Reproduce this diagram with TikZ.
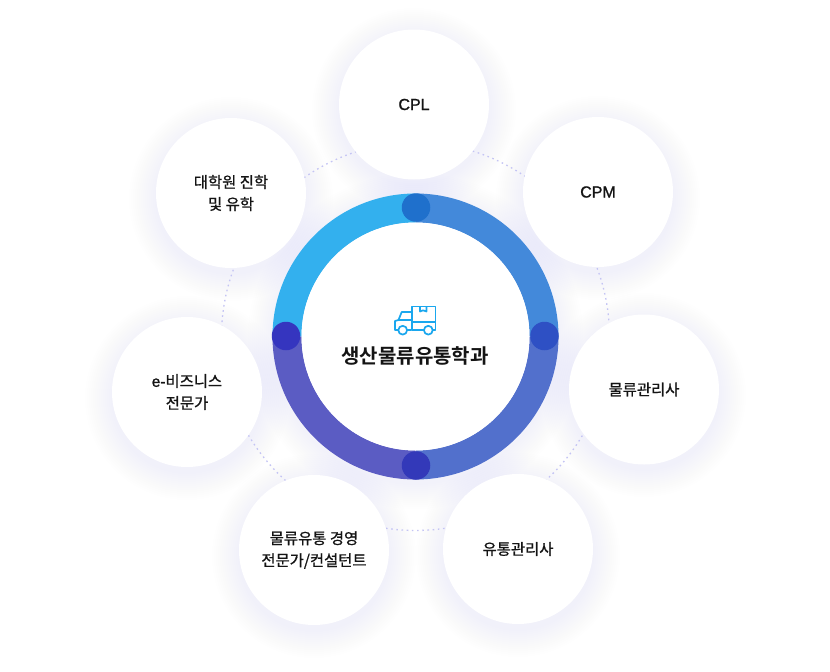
\documentclass[tikz,border=0pt]{standalone}
\usepackage{fontspec}
\setmainfont{Noto Sans CJK KR}[BoldFont={Noto Sans CJK KR Bold}]
\newfontfamily\labelfont[FakeBold=0.9]{Noto Sans CJK KR}
\newfontfamily\latinfont[FakeBold=1.2]{Liberation Sans}
\newfontfamily\titlefont{Noto Sans CJK KR Bold}
\definecolor{halo}{HTML}{B4B0FA}
\definecolor{dots}{HTML}{C4C4F4}
\definecolor{truck}{HTML}{1AA7EE}
\definecolor{qa}{HTML}{33B0EE}
\definecolor{qb}{HTML}{4389DA}
\definecolor{qc}{HTML}{5270CC}
\definecolor{qd}{HTML}{5B5CC3}
\tikzset{
  x=1pt,y=-1pt,
  bubble/.style={circle,fill=white,minimum size=150pt,inner sep=0pt,align=center,
    font=\labelfont\fontsize{15.4}{22}\selectfont,text=black!92},
  ringdot/.style={circle,minimum size=28.5pt,inner sep=0pt},
  truckline/.style={draw=truck,line width=1.7pt,line join=round},
}
\newcommand{\softhalo}[2]{%
  \foreach \r in {76,78,...,102}{\fill[halo,opacity=0.004] (#1,#2+6) circle[radius=\r];}}
\newcommand{\quadrant}[3]{%
  \fill[#1] (415.5,336.5) ++(#2:143) arc[start angle=#2,end angle=#3,radius=143]
    -- ($(415.5,336.5)+(#3:114)$) arc[start angle=#3,end angle=#2,radius=114] -- cycle;}
\usetikzlibrary{calc}
\begin{document}
\begin{tikzpicture}
\useasboundingbox (0,0) rectangle (830,672);
\fill[white] (0,0) rectangle (830,672);
% soft shadows
\softhalo{414}{104}\softhalo{598}{192}\softhalo{644}{389}\softhalo{518}{549}
\softhalo{314}{550}\softhalo{187}{392}\softhalo{231}{193}
\foreach \r in {144,146,...,168}{\fill[halo,opacity=0.004] (415.5,341) circle[radius=\r];}
% dotted orbit
\draw[dots,line width=1.3pt,dash pattern=on 1.6pt off 3.6pt] (415.5,336.5) circle[radius=194];
% ring (screen angles: y axis points down)
\quadrant{qa}{180}{270}
\quadrant{qb}{270}{360}
\quadrant{qc}{0}{90}
\quadrant{qd}{90}{180}
\node[circle,fill=white,minimum size=228pt,inner sep=0pt] (hub) at (415.5,336.5) {};
\node[ringdot,fill={rgb,255:red,31;green,112;blue,204}] (dt) at (416,207.5) {};
\node[ringdot,fill={rgb,255:red,46;green,80;blue,196}] (dr) at (544.5,336) {};
\node[ringdot,fill={rgb,255:red,51;green,57;blue,185}] (db) at (416,465.5) {};
\node[ringdot,fill={rgb,255:red,53;green,53;blue,191}] (dl) at (286,336) {};
% truck icon
\draw[truckline,fill=white] (411.7,306.5) rectangle (435.5,330);
\draw[truckline] (411.7,322.3) -- (435.5,322.3);
\draw[truckline] (420,306.5) -- (420,311.5) -- (423,310.3) -- (426.5,311.5) -- (426.5,306.5);
\draw[truckline] (411.7,330) -- (395,330) -- (395,321) -- (398.5,320) -- (401.7,312) -- (411.7,312);
\draw[truckline] (398.5,320.3) -- (411.7,320.3);
\draw[truckline,fill=white] (402.7,330.2) circle[radius=4.4];
\draw[truckline,fill=white] (428.3,330.2) circle[radius=4.4];
% title
\node[font=\titlefont\fontsize{20}{24}\selectfont,text=black!92,inner sep=0pt] (title) at (415,355.5) {생산물류유통학과};
% outer bubbles
\node[bubble] (cpl) at (414,104.5) {{\latinfont\fontsize{16}{22}\selectfont CPL}};
\node[bubble] (cpm) at (598,192) {{\latinfont\fontsize{16}{22}\selectfont CPM}};
\node[bubble] (lm) at (644,389.5) {물류관리사};
\node[bubble] (dist) at (518,549) {유통관리사};
\node[bubble] (cons) at (314,550) {물류유통 경영\\전문가/컨설턴트};
\node[bubble] (ebiz) at (187,392) {{\latinfont\fontsize{15.4}{22}\selectfont e-}비즈니스\\전문가};
\node[bubble] (grad) at (231,193) {대학원 진학\\및 유학};
\end{tikzpicture}
\end{document}
